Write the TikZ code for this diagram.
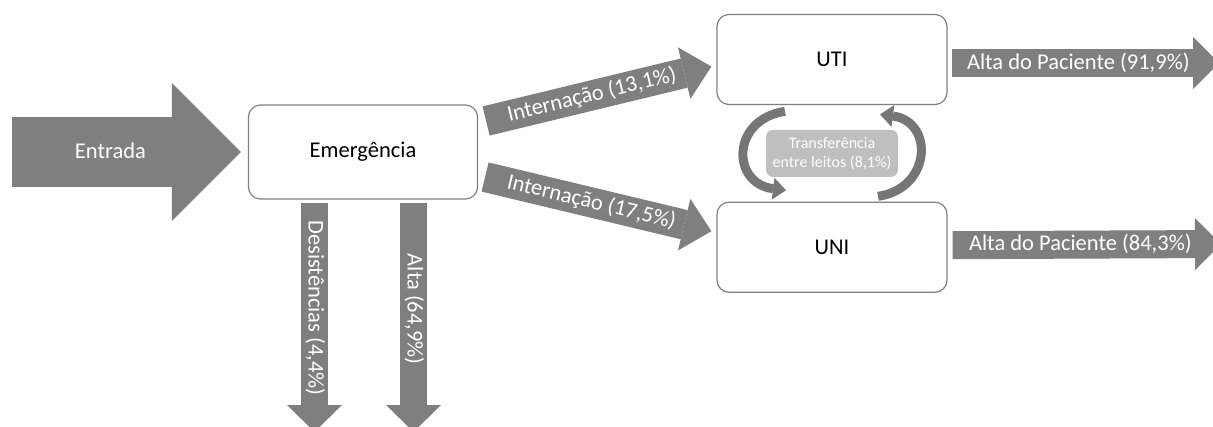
\documentclass[tikz,border=0pt]{standalone}
\usepackage{fontspec}
\setmainfont{Carlito}
\usetikzlibrary{arrows.meta, positioning, calc}
\definecolor{arrowgray}{HTML}{7F7F7F}
\definecolor{boxline}{HTML}{808080}
\definecolor{transgray}{HTML}{BFBFBF}
\definecolor{swapgray}{HTML}{767676}

\begin{document}
\begin{tikzpicture}[x=1pt, y=-1pt, font=\fontsize{22.5}{27}\selectfont]
    \tikzstyle{box} = [rectangle, rounded corners=12pt, minimum width=229pt, minimum height=94pt, text centered, draw=boxline, line width=1.2pt, fill=white]
    \tikzstyle{transfer} = [rectangle, rounded corners=7pt, minimum width=132pt, minimum height=47pt, align=center, fill=transgray, text=white, font=\fontsize{16}{19}\selectfont]
    \tikzstyle{arrowtext} = [text=white, text height=13pt, text depth=1pt, inner sep=0pt]
    \tikzstyle{bigarrow} = [draw=arrowgray, line width=70pt, -{Triangle[length=69pt, width=138pt, line width=0pt]}]
    \tikzstyle{flowarrow} = [draw=arrowgray, line width=30pt, -{Triangle[length=28pt, width=53pt, line width=0pt]}]
    \tikzstyle{downarrow} = [draw=arrowgray, line width=27pt, -{Triangle[length=27pt, width=55pt, line width=0pt]}]
    \tikzstyle{outarrow} = [draw=arrowgray, line width=28pt, -{Triangle[length=26pt, width=52pt, line width=0pt]}]
    \tikzstyle{swap} = [draw=swapgray, line width=9pt, -{Triangle[length=13pt, width=22pt, line width=0pt]}]
    \useasboundingbox (0,0) rectangle (1213,426);
    \node (emerg) [box] at (363,152) {Emergência};
    \node (uti) [box, minimum width=230pt, minimum height=90pt] at (832,59.5) {UTI};
    \node (uni) [box, minimum width=230pt, minimum height=90pt, below=96.5pt of uti] {UNI};
    \node (trans) [transfer] at ($(uti)!.5!(uni)$) {Transferência\\entre leitos (8,1\%)};
    \coordinate (in) at (12,152);
    \coordinate (desout) at (314.5,432);
    \coordinate (altaout) at (413.5,432);
    \coordinate (utiout) at (1219,63);
    \coordinate (uniout) at (1221,244);
    \draw [bigarrow] (in) -- node (lblentrada) [pos=.43, arrowtext] {Entrada} ([xshift=-7pt]emerg.west);
    \draw [flowarrow] ([shift={(8,-31)}]emerg.east) -- node (lblint1) [pos=.47, sloped, arrowtext] {Internação (13,1\%)} ([shift={(-5,7)}]uti.west);
    \draw [flowarrow] ([shift={(7,25)}]emerg.east) -- node (lblint2) [pos=.47, sloped, arrowtext] {Internação (17,5\%)} ([shift={(-5,-16)}]uni.west);
    \draw [downarrow] ([shift={(-48.5,3)}]emerg.south) -- node (lbldes) [pos=.46, rotate=-90, arrowtext] {Desistências (4,4\%)} (desout);
    \draw [downarrow] ([shift={(50.5,3)}]emerg.south) -- node (lblalta) [pos=.465, rotate=-90, arrowtext] {Alta (64,9\%)} (altaout);
    \draw [outarrow] ([shift={(4,3.5)}]uti.east) -- node (lblutiout) [pos=.474, arrowtext] {Alta do Paciente (91,9\%)} (utiout);
    \draw [outarrow] ([shift={(5,-2)}]uni.east) -- node (lbluniout) [pos=.476, arrowtext] {Alta do Paciente (84,3\%)} (uniout);
    \draw [swap] ([shift={(-47,-42)}]trans.center) .. controls +(-54,8) and +(-55,-7) .. ([shift={(-46,37)}]trans.center);
    \draw [swap] ([shift={(46,43)}]trans.center) .. controls +(54,-8) and +(54,7) .. ([shift={(48,-39)}]trans.center);
\end{tikzpicture}
\end{document}
